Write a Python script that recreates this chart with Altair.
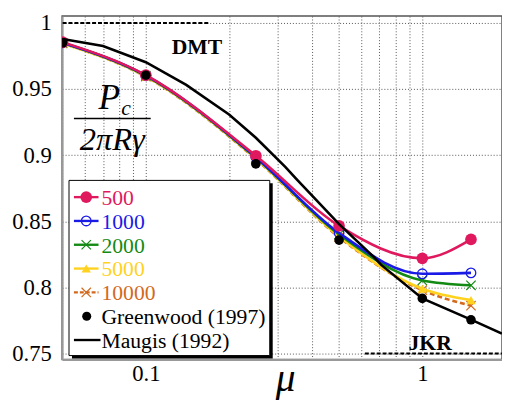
import altair as alt
import pandas as pd

# ---- data ----
mu_pts = [0.05, 0.1, 0.25, 0.5, 1.0, 1.5]
p500 = [0.9855, 0.9605, 0.8996, 0.8465, 0.8220, 0.8363]
p1000 = [0.9850, 0.9603, 0.8985, 0.8412, 0.8103, 0.8110]
p2000 = [0.9850, 0.9600, 0.8980, 0.8400, 0.8053, 0.8016]
p5000 = [0.9845, 0.9595, 0.8975, 0.8385, 0.7990, 0.7904]
p10000 = [0.9845, 0.9593, 0.8970, 0.8380, 0.7979, 0.7862]
greenwood = [0.9850, 0.9605, 0.8934, 0.8358, 0.7917, 0.7755]

maugis_mu = [0.05, 0.07, 0.1, 0.14, 0.2, 0.25, 0.32, 0.35, 0.5, 0.67, 0.71, 1.0, 1.5, 1.94]
maugis_val = [0.9878, 0.9825, 0.9703, 0.9532, 0.9308, 0.9132, 0.8909, 0.8820, 0.8478,
              0.8228, 0.8170, 0.7917, 0.7757, 0.7650]

dmt_mu = [0.05, 0.17]
dmt_val = [1.0, 1.0]
jkr_mu = [0.62, 1.94]
jkr_val = [0.75, 0.75]

series_names = ["500", "1000", "2000", "5000", "10000"]
series_vals = [p500, p1000, p2000, p5000, p10000]
series_colors = ["#e0195e", "#1a1ae6", "#138a13", "#ffd21f", "#d2691e"]

x_grid = [0.05, 0.06, 0.07, 0.08, 0.09, 0.1, 0.2, 0.3, 0.4, 0.5, 0.6, 0.7, 0.8, 0.9, 1.0]
y_grid = [0.75, 0.8, 0.85, 0.9, 0.95, 1.0]

FONT = "'Liberation Serif', 'Times New Roman', 'DejaVu Serif', serif"
XPATH = "M-1,-1L1,1M-1,1L1,-1"

X = alt.X("mu:Q",
          scale=alt.Scale(type="log", domain=[0.0498, 1.942], nice=False),
          axis=alt.Axis(values=x_grid, grid=True, gridDash=[1, 2], gridColor="#555",
                        gridWidth=1, ticks=False, domainColor="#999", domainWidth=2,
                        labelExpr="(datum.value == 0.1 || datum.value == 1) ? datum.label : ''",
                        format="~g", labelFont=FONT, labelFontSize=23, labelColor="black",
                        labelPadding=3, labelOverlap=False, labelFlush=False, title=None))
Y = alt.Y("v:Q",
          scale=alt.Scale(domain=[0.7455, 1.0052], nice=False, zero=False),
          axis=alt.Axis(values=y_grid, grid=True, gridDash=[1, 2], gridColor="#555",
                        gridWidth=1, ticks=False, domainColor="#999", domainWidth=2,
                        format="~g", labelFont=FONT, labelFontSize=23, labelColor="black",
                        labelPadding=11, labelOverlap=False, labelFlush=False, title=None))

layers = []

# reference limits
layers.append(alt.Chart(pd.DataFrame({"mu": dmt_mu, "v": dmt_val})).mark_line(
    color="black", strokeWidth=2, strokeDash=[4, 2], clip=True).encode(x=X, y=Y))
layers.append(alt.Chart(pd.DataFrame({"mu": jkr_mu, "v": jkr_val})).mark_line(
    color="black", strokeWidth=2, strokeDash=[4, 2], clip=True).encode(x=X, y=Y))

marker_styles = [
    dict(shape="circle", filled=True, size=140, strokeWidth=0),
    dict(shape="circle", filled=False, size=95, strokeWidth=1.3),
    dict(shape=XPATH, filled=False, size=90, strokeWidth=1.2),
    dict(shape="triangle-up", filled=True, size=90, strokeWidth=0),
    dict(shape=XPATH, filled=False, size=90, strokeWidth=1.2),
]

order = [4, 3, 2, 1, 0]
for i in order:
    df = pd.DataFrame({"mu": mu_pts, "v": series_vals[i]})
    line_kw = dict(color=series_colors[i], strokeWidth=2.6, interpolate="monotone", clip=True)
    if i == 4:
        line_kw["strokeDash"] = [5, 3]
    layers.append(alt.Chart(df).mark_line(**line_kw).encode(x=X, y=Y))
    layers.append(alt.Chart(df).mark_point(color=series_colors[i], opacity=1, clip=True,
                                           **marker_styles[i]).encode(x=X, y=Y))

# Maugis and Greenwood
layers.append(alt.Chart(pd.DataFrame({"mu": maugis_mu, "v": maugis_val})).mark_line(
    color="black", strokeWidth=2.6, clip=True).encode(x=X, y=Y))
layers.append(alt.Chart(pd.DataFrame({"mu": mu_pts, "v": greenwood})).mark_circle(
    color="black", size=95, opacity=1, clip=True).encode(x=X, y=Y))

one = pd.DataFrame({"a": [0]})


def txt(t, x, y, size, **kw):
    return alt.Chart(one).mark_text(text=t, font=FONT, fontSize=size, **kw).encode(
        x=alt.value(x), y=alt.value(y))


# annotations
layers.append(txt("DMT", 137, 32, 22, fontWeight="bold", baseline="middle", align="center"))
layers.append(txt("JKR", 374, 339, 22, fontWeight="bold", baseline="alphabetic", align="center"))
layers.append(txt("P", 48, 94, 36, fontStyle="italic", baseline="alphabetic", align="center"))
layers.append(txt("c", 60, 101, 22, fontStyle="italic", baseline="alphabetic", align="left"))
layers.append(alt.Chart(one).mark_rule(color="black", strokeWidth=1.5).encode(
    x=alt.value(12), x2=alt.value(90), y=alt.value(104)))
layers.append(txt("2πRγ", 51, 136, 33, fontStyle="italic", baseline="alphabetic", align="center"))
layers.append(txt("μ", 227, 381, 40, fontStyle="italic", baseline="alphabetic", align="center"))

# legend box with shadow
layers.append(alt.Chart(one).mark_rect(color="black").encode(
    x=alt.value(10), x2=alt.value(214), y=alt.value(170), y2=alt.value(348)))
layers.append(alt.Chart(one).mark_rect(fill="white", stroke="black", strokeWidth=1).encode(
    x=alt.value(7), x2=alt.value(211), y=alt.value(167), y2=alt.value(345)))

legend_labels = series_names + ["Greenwood (1997)", "Maugis (1992)"]
legend_colors = series_colors + ["black", "black"]
row0, dy = 184, 24.2
for k, lab in enumerate(legend_labels):
    yy = row0 + k * dy
    if k < 5:
        rule_kw = dict(color=legend_colors[k], strokeWidth=2.4)
        if k == 4:
            rule_kw["strokeDash"] = [4, 2]
        layers.append(alt.Chart(one).mark_rule(**rule_kw).encode(
            x=alt.value(12), x2=alt.value(37), y=alt.value(yy)))
        layers.append(alt.Chart(one).mark_point(color=legend_colors[k], opacity=1,
                                                **marker_styles[k]).encode(
            x=alt.value(24.5), y=alt.value(yy)))
    elif k == 5:
        layers.append(alt.Chart(one).mark_circle(color="black", size=85, opacity=1).encode(
            x=alt.value(25), y=alt.value(yy)))
    else:
        layers.append(alt.Chart(one).mark_rule(color="black", strokeWidth=2.4).encode(
            x=alt.value(12), x2=alt.value(39), y=alt.value(yy)))
    layers.append(txt(lab, 40, yy + 1, 22, color=legend_colors[k], baseline="middle",
                      align="left"))

chart = alt.layer(*layers).properties(
    width=447, height=349,
    autosize=alt.AutoSizeParams(type="none"),
    padding={"left": 55, "top": 5, "right": 0, "bottom": 40},
).configure_view(stroke="#555", strokeWidth=1.5)

chart.save("out.html", embed_options={"renderer": "svg", "actions": False})
